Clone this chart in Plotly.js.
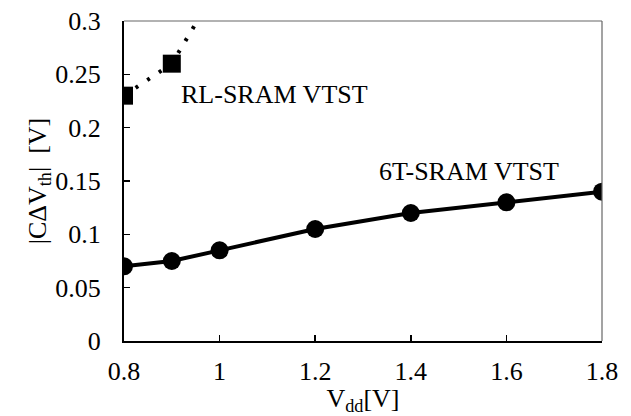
<!DOCTYPE html>
<html><head><meta charset="utf-8">
<script src="https://cdn.plot.ly/plotly-3.0.1.min.js"></script>
<style>html,body{margin:0;padding:0;background:#fff}</style>
</head><body><div id="chart" style="width:631px;height:416px"></div>
<script>
const vdd6T = [0.8, 0.9, 1.0, 1.2, 1.4, 1.6, 1.8];
const dvth6T = [0.070, 0.075, 0.085, 0.105, 0.120, 0.130, 0.140];
const vddRL = [0.8, 0.9];
const dvthRL = [0.230, 0.260];
const vddRLTrend = [0.8, 0.9, 1.0];
const dvthRLTrend = [0.230, 0.260, 0.335];
const xTicks = [0.8, 1, 1.2, 1.4, 1.6, 1.8];
const yTicks = [0, 0.05, 0.1, 0.15, 0.2, 0.25, 0.3];
const yTickText = ['0', '0.05', '0.1', '0.15', '0.2', '0.25', '0.3'];
const labels = ['RL-SRAM VTST', '6T-SRAM VTST'];

const font = {family: 'Liberation Serif, Times New Roman, serif', size: 26, color: '#000'};

const traces = [
  {x: vddRLTrend, y: dvthRLTrend, mode: 'lines', line: {color: '#000', width: 4, dash: '3px,11px'}, hoverinfo: 'skip', showlegend: false},
  {x: vddRL, y: dvthRL, mode: 'markers', marker: {symbol: 'square', size: 18, color: '#000'}, showlegend: false},
  {x: vdd6T, y: dvth6T, mode: 'lines+markers', line: {color: '#000', width: 4}, marker: {symbol: 'circle', size: 18, color: '#000'}, showlegend: false}
];

const layout = {
  width: 631, height: 416,
  margin: {l: 124, r: 29, t: 21, b: 75},
  paper_bgcolor: '#fff', plot_bgcolor: '#fff',
  font: font,
  showlegend: false,
  xaxis: {
    range: [0.8, 1.8], tickvals: xTicks, ticktext: xTicks.map(String),
    ticks: 'inside', ticklen: 6, tickwidth: 1.5, tickcolor: '#000',
    showline: true, linecolor: '#000', linewidth: 2, showgrid: false, zeroline: false,
    tickfont: font, ticklabelstandoff: 6,
    title: {text: 'V<sub>dd</sub>[V]', font: font, standoff: 2}
  },
  yaxis: {
    range: [0, 0.3], tickvals: yTicks, ticktext: yTickText,
    ticks: 'inside', ticklen: 6, tickwidth: 1.5, tickcolor: '#000',
    showline: true, linecolor: '#000', linewidth: 2, showgrid: false, zeroline: false,
    tickfont: font, ticklabelstandoff: 16,
    title: {text: '|CΔV<sub>th</sub>|  [V]', font: font, standoff: 0}
  },
  shapes: [
    {type: 'line', xref: 'paper', yref: 'paper', x0: 0, x1: 1, y0: 1, y1: 1, line: {color: '#666', width: 1.2}},
    {type: 'line', xref: 'paper', yref: 'paper', x0: 1, x1: 1, y0: 0, y1: 1, line: {color: '#666', width: 1.2}}
  ],
  annotations: [
    {x: 0.915, y: 0.231, xref: 'x', yref: 'y', text: labels[0], showarrow: false, xanchor: 'left', yanchor: 'middle', font: font},
    {x: 1.33, y: 0.159, xref: 'x', yref: 'y', text: labels[1], showarrow: false, xanchor: 'left', yanchor: 'middle', font: font}
  ]
};

Plotly.newPlot('chart', traces, layout, {displayModeBar: false, staticPlot: true});
</script></body></html>
